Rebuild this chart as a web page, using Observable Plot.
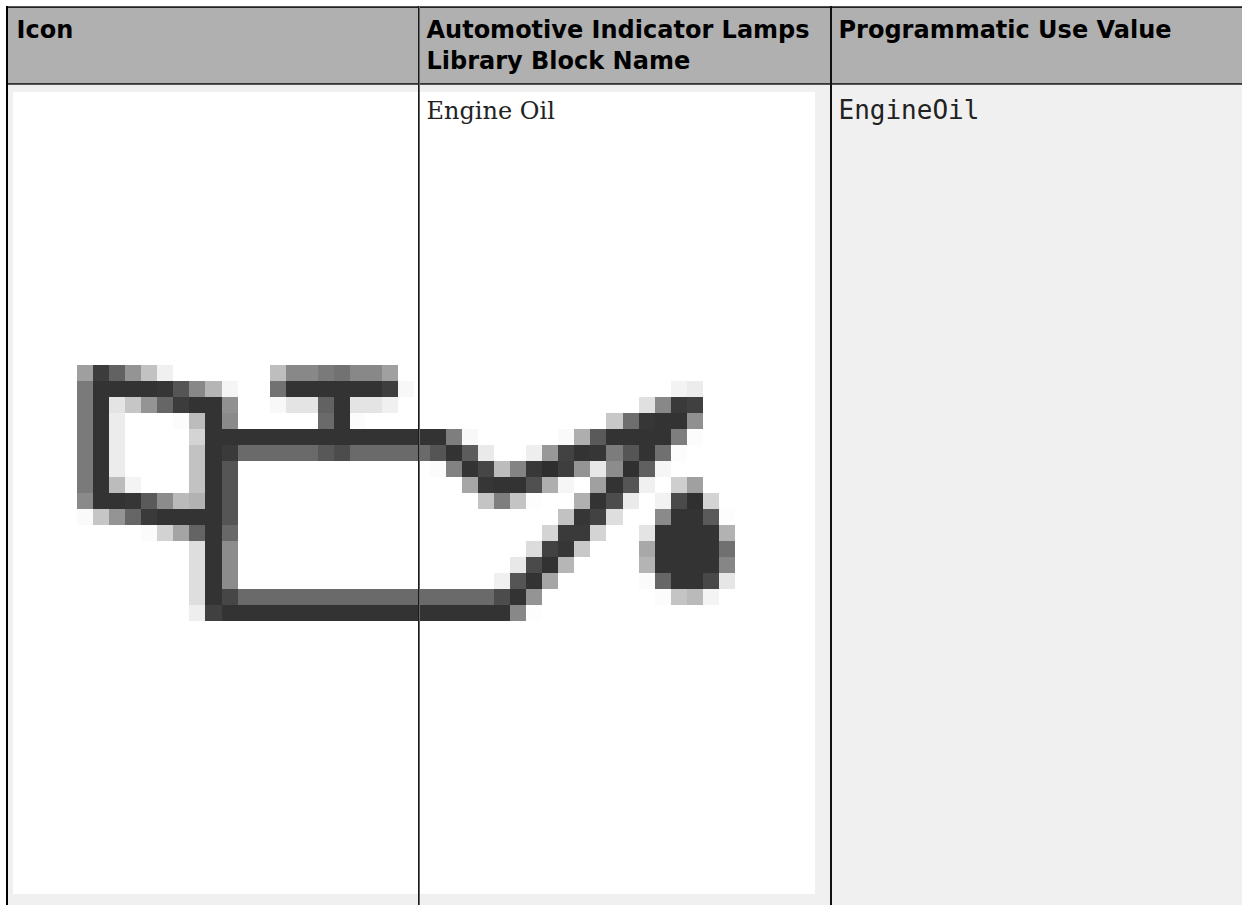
<!DOCTYPE html>
<html><head><meta charset="utf-8">
<style>html,body{margin:0;padding:0;background:#fff;overflow:hidden}svg{display:block}</style>
<script src="https://cdn.jsdelivr.net/npm/d3@7"></script>
<script src="https://cdn.jsdelivr.net/npm/@observablehq/plot@0.6"></script>
</head><body>
<script>
const headers = [
  {lines: ["Icon"], col: 0},
  {lines: ["Automotive Indicator Lamps", "Library Block Name"], col: 1},
  {lines: ["Programmatic Use Value"], col: 2}
];
const blockName = "Engine Oil";
const useValue = "EngineOil";
// grey levels of the icon bitmap: "startColumn:values|startColumn:values" per row
const iconRows = [
  "0:9f 3c 62 94 c2 f0|12:be 88 88 7a 72 88 88 a0",
  "0:7a 33 33 33 33 36 55 88 b5 f5|12:72 33 33 33 33 33 33 3e f8|37:f3 ec",
  "0:7a 33 e4 c6 94 66 3c 33 33 90|12:f8 e4 e4 62 33 e4 e4 f0|35:e0 88 3a 40",
  "0:7a 33 ec|6:fc bc 33 8a|15:6a 33 fc|33:c8 6e 36 33 33 90",
  "0:7a 33 ec|7:d4 33 33 33 33 33 33 33 33 33 33 33 33 33 33 33 7e f8|30:fa ae 5a 33 33 33 33 7e fc",
  "0:7a 33 ec|7:c2 33 3a 6a 6a 6a 6a 6a 58 4c 6a 6a 6a 6a 6a 55 33 5c ea|28:ee 98 42 33 36 7c 55 33 70 fc",
  "0:7a 33 ec|7:c2 33 55|22:fb 82 33 46 bc 84 38 2e 3e 94 e8 8c 30 60 f6",
  "0:7a 33 bc f4|7:c2 33 55|24:a6 36 33 33 50 ae f6|32:a0 33 55 f0|37:ce a0",
  "0:8a 33 33 36 5a 8c ba b2 33 55|25:c4 7e c4 fd|31:b0 33 4c ea|36:f2 4a 30 d4",
  "0:fa c6 94 66 3a 33 33 33 33 55|30:c2 36 42 de|36:8a 33 33 5a fd",
  "4:fb d2 a4 64 33 68|29:d4 3a 3a d4|35:e4 33 33 33 33 b2",
  "7:de 33 8c|28:dc 42 36 c8|35:a8 33 33 33 33 70",
  "7:de 33 8c|27:e8 4a 32 b6|35:b4 33 33 33 33 86",
  "7:de 33 8c|26:f0 55 33 a6|35:fb 66 33 33 48 e6",
  "7:de 33 46 6a 6a 6a 6a 6a 6a 6a 6a 6a 6a 6a 6a 6a 6a 6a 6a 4c 33 94|36:fc c4 ba f4",
  "7:ee 40 33 33 33 33 33 33 33 33 33 33 33 33 33 33 33 33 33 33 88 fd"
];

const W = 1243, H = 905;
const frame = {left: 6, right: 1242, top: 6, head: 83, bottom: 905};
const image = {x: 13, y: 92, size: 802, n: 50, firstCol: 4, firstRow: 17};
const px = image.size / image.n;
const textX = [16, 426, 838];

// table rules as [x1, x2, y1, y2, colour]
const rules = [
  {x1: 6, x2: 1242, y1: 6, y2: 7, fill: "#555"},
  {x1: 6, x2: 1242, y1: 7, y2: 8, fill: "#222"},
  {x1: 6, x2: 1242, y1: 83, y2: 84, fill: "#333"},
  {x1: 6, x2: 1242, y1: 84, y2: 85, fill: "#555"},
  {x1: 6, x2: 8, y1: 6, y2: 905, fill: "#000"},
  {x1: 418, x2: 419, y1: 6, y2: 905, fill: "#1a1a1a"},
  {x1: 419, x2: 420, y1: 6, y2: 905, fill: "#666"},
  {x1: 830, x2: 832, y1: 6, y2: 905, fill: "#111"}
];

const cells = [];
iconRows.forEach((row, r) => row.split("|").forEach(run => {
  const [start, vals] = run.split(":");
  vals.split(" ").forEach((v, i) => cells.push({r, c: +start + i, v}));
}));
const X = c => image.x + (image.firstCol + c) * px;
const Y = r => image.y + (image.firstRow + r) * px;

const headLines = headers.flatMap(h => h.lines.map((t, i) => ({t, i, col: h.col})));

const chart = Plot.plot({
  width: W, height: H, margin: 0,
  x: {domain: [0, W], range: [0, W], axis: null},
  y: {domain: [0, H], range: [0, H], axis: null},
  color: {type: "identity"},
  style: {background: "#fff"},
  marks: [
    Plot.rect([0], {x1: frame.left, x2: frame.right, y1: frame.top, y2: frame.head, fill: "#b0b0b0", shapeRendering: "crispEdges"}),
    Plot.rect([0], {x1: frame.left, x2: frame.right, y1: frame.head, y2: frame.bottom, fill: "#f0f0f0", shapeRendering: "crispEdges"}),
    Plot.rect([0], {x1: image.x, x2: image.x + image.size, y1: image.y, y2: image.y + image.size, fill: "#fff", shapeRendering: "crispEdges"}),
    Plot.rect(cells, {
      x1: d => X(d.c), x2: d => X(d.c + 1),
      y1: d => Y(d.r), y2: d => Y(d.r + 1),
      fill: d => "#" + d.v + d.v + d.v, shapeRendering: "crispEdges"
    }),
    Plot.rect(rules, {x1: "x1", x2: "x2", y1: "y1", y2: "y2", fill: "fill", shapeRendering: "crispEdges"}),
    Plot.text(headLines, {
      x: d => textX[d.col], y: d => 37 + d.i * 31, text: "t",
      textAnchor: "start", lineAnchor: "bottom", fill: "#000",
      fontFamily: "DejaVu Sans", fontWeight: "bold", fontSize: 24
    }),
    Plot.text([blockName], {x: textX[1], y: 118, text: d => d, textAnchor: "start", lineAnchor: "bottom", fill: "#222", fontFamily: "DejaVu Serif", fontSize: 24}),
    Plot.text([useValue], {x: textX[2], y: 118, text: d => d, textAnchor: "start", lineAnchor: "bottom", fill: "#222", fontFamily: "DejaVu Sans Mono", fontSize: 26})
  ]
});
document.body.append(chart);
</script>
</body></html>
